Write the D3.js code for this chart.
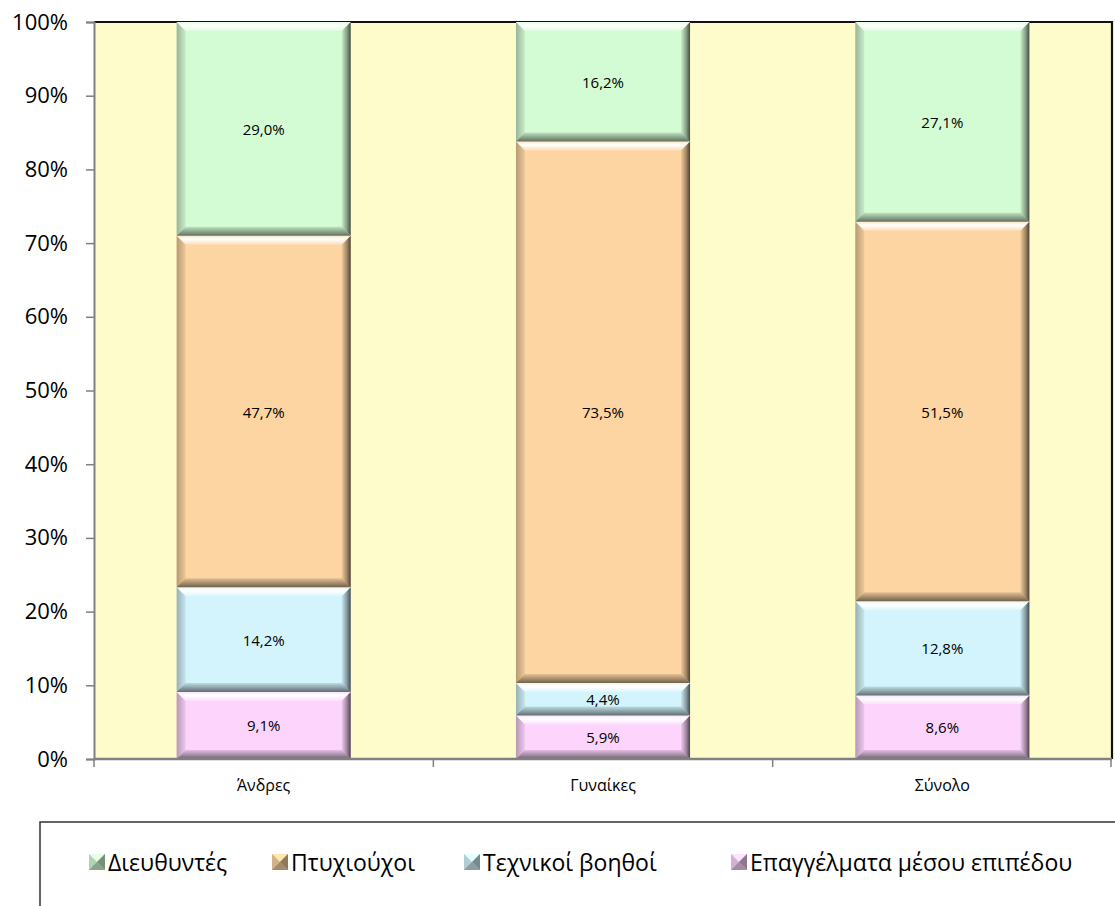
<!DOCTYPE html>
<html>
<head>
<meta charset="utf-8">
<script src="https://cdn.jsdelivr.net/npm/d3@7"></script>
<style>
  html, body { margin: 0; padding: 0; background: #ffffff; }
  svg { display: block; }
  text { font-family: "Open Sans", "Noto Sans", sans-serif; fill: #000; }
</style>
</head>
<body>
<svg id="chart" width="1115" height="906"></svg>
<script>
// Occupational shares by sex (percent of each column)
const categories = ["Άνδρες", "Γυναίκες", "Σύνολο"];
const seriesNames = ["Επαγγέλματα μέσου επιπέδου", "Τεχνικοί βοηθοί", "Πτυχιούχοι", "Διευθυντές"];
const midLevel   = [9.1, 5.9, 8.6];
const technical  = [14.2, 4.4, 12.8];
const graduates  = [47.7, 73.5, 51.5];
const managers   = [29.0, 16.2, 27.1];
const yTicks = [0, 10, 20, 30, 40, 50, 60, 70, 80, 90, 100];
const legendOrder = ["Διευθυντές", "Πτυχιούχοι", "Τεχνικοί βοηθοί", "Επαγγέλματα μέσου επιπέδου"];

const seriesValues = [midLevel, technical, graduates, managers];
const colors = {
  "Επαγγέλματα μέσου επιπέδου": "#fcd4fc",
  "Τεχνικοί βοηθοί": "#d3f4fc",
  "Πτυχιούχοι": "#fdd5a2",
  "Διευθυντές": "#d4fcd4"
};

const svg = d3.select("#chart");
const plot = { left: 94, right: 1112, top: 22, bottom: 759 };

const x = d3.scaleBand()
  .domain(categories)
  .range([plot.left, plot.right])
  .paddingInner(0.487)
  .paddingOuter(0.2435);

const y = d3.scaleLinear().domain([0, 100]).range([plot.bottom, plot.top]);

// Gradients for the bevelled bar edges
const defs = svg.append("defs");
function grad(id, x1, y1, x2, y2, stops) {
  const g = defs.append("linearGradient").attr("id", id)
    .attr("x1", x1).attr("y1", y1).attr("x2", x2).attr("y2", y2);
  stops.forEach(s => g.append("stop").attr("offset", s[0]).attr("stop-color", s[1]).attr("stop-opacity", s[2]));
}
grad("bevTop", 0, 0, 0, 1, [[0, "#ffffff", 0.4], [0.4, "#ffffff", 1], [1, "#ffffff", 0.2]]);
grad("bevBottom", 0, 0, 0, 1, [[0, "#000000", 0.1], [1, "#000000", 0.55]]);
grad("bevRight", 0, 0, 1, 0, [[0, "#000000", 0.05], [0.6, "#000000", 0.38], [1, "#000000", 0.7]]);
grad("bevLeft", 0, 0, 1, 0, [[0, "#000000", 0.28], [1, "#000000", 0.06]]);

// Plot background
svg.append("rect")
  .attr("x", plot.left).attr("y", plot.top)
  .attr("width", plot.right - plot.left).attr("height", plot.bottom - plot.top)
  .attr("fill", "#fffccc");

// Top and right plot border
svg.append("path")
  .attr("d", `M${plot.left},${plot.top}H${plot.right}V${plot.bottom}`)
  .attr("fill", "none").attr("stroke", "#111").attr("stroke-width", 2.2);

// Stack the series
const rows = categories.map((c, i) => {
  const r = { cat: c };
  seriesNames.forEach((s, k) => r[s] = seriesValues[k][i]);
  return r;
});
const stacked = d3.stack().keys(seriesNames)(rows);

const barsG = svg.append("g");
stacked.forEach(layer => {
  const name = layer.key;
  layer.forEach(d => {
    const x0 = x(d.data.cat), w = x.bandwidth();
    const yTop = y(d[1]), yBot = y(d[0]);
    const h = yBot - yTop;
    const b = Math.min(9, h / 2.2);
    const g = barsG.append("g");
    g.append("rect").attr("x", x0).attr("y", yTop).attr("width", w).attr("height", h)
      .attr("fill", colors[name]);
    const x1 = x0 + w, y1 = yBot;
    g.append("polygon").attr("fill", "url(#bevTop)")
      .attr("points", `${x0},${yTop} ${x1},${yTop} ${x1 - b},${yTop + b} ${x0 + b},${yTop + b}`);
    g.append("polygon").attr("fill", "url(#bevLeft)")
      .attr("points", `${x0},${yTop} ${x0 + b},${yTop + b} ${x0 + b},${y1 - b} ${x0},${y1}`);
    g.append("polygon").attr("fill", "url(#bevRight)")
      .attr("points", `${x1},${yTop} ${x1},${y1} ${x1 - b},${y1 - b} ${x1 - b},${yTop + b}`);
    g.append("polygon").attr("fill", "url(#bevBottom)")
      .attr("points", `${x0},${y1} ${x0 + b},${y1 - b} ${x1 - b},${y1 - b} ${x1},${y1}`);
    g.append("text")
      .attr("x", x0 + w / 2).attr("y", (yTop + yBot) / 2)
      .attr("text-anchor", "middle").attr("dominant-baseline", "central")
      .style("font-size", "15px")
      .text(d3.format(".1f")(d[1] - d[0]).replace(".", ",") + "%");
  });
});

// Y axis
const yAxis = d3.axisLeft(y).tickValues(yTicks).tickSize(8).tickPadding(18)
  .tickFormat(d => d + "%");
const yg = svg.append("g").attr("transform", `translate(${plot.left},0)`).call(yAxis);
yg.select(".domain").attr("stroke", "#808080").attr("stroke-width", 2);
yg.selectAll(".tick line").attr("stroke", "#808080").attr("stroke-width", 1.5);
yg.selectAll(".tick text").style("font-size", "22px").attr("fill", "#000");

// X axis with ticks on category boundaries
const xg = svg.append("g").attr("transform", `translate(0,${plot.bottom})`);
xg.append("line").attr("x1", plot.left).attr("x2", plot.right)
  .attr("stroke", "#808080").attr("stroke-width", 2.5);
const bounds = categories.map(c => x(c) - x.step() * x.paddingInner() / 2)
  .concat([plot.right - 1]);
bounds[0] = plot.left;
xg.selectAll("line.tk").data(bounds).enter().append("line").attr("class", "tk")
  .attr("x1", d => d).attr("x2", d => d).attr("y1", 0).attr("y2", 8)
  .attr("stroke", "#808080").attr("stroke-width", 1.5);
xg.selectAll("text").data(categories).enter().append("text")
  .attr("x", d => x(d) + x.bandwidth() / 2).attr("y", 32)
  .attr("text-anchor", "middle").style("font-size", "16px")
  .text(d => d);

// Legend
const legend = svg.append("g");
legend.append("rect").attr("x", 40).attr("y", 822).attr("width", 1100).attr("height", 120)
  .attr("fill", "#fff").attr("stroke", "#333").attr("stroke-width", 1.5);
const legendX = [89, 272, 464, 731];
legendOrder.forEach((name, i) => {
  const lx = legendX[i], ly = 854;
  const s = 16;
  const c = d3.color(colors[name]);
  const g = legend.append("g");
  g.append("rect").attr("x", lx).attr("y", ly).attr("width", s).attr("height", s).attr("fill", c.darker(0.5));
  g.append("polygon").attr("fill", c.brighter(0.2))
    .attr("points", `${lx},${ly} ${lx + s},${ly} ${lx + s / 2},${ly + s / 2}`);
  g.append("polygon").attr("fill", c.darker(1.6))
    .attr("points", `${lx + s},${ly} ${lx + s},${ly + s} ${lx + s / 2},${ly + s / 2}`);
  g.append("polygon").attr("fill", c.darker(1.2))
    .attr("points", `${lx},${ly + s} ${lx + s},${ly + s} ${lx + s / 2},${ly + s / 2}`);
  g.append("text").attr("x", lx + 19).attr("y", ly + 8)
    .attr("dominant-baseline", "central").style("font-size", "23px")
    .text(name);
});
</script>
</body>
</html>
